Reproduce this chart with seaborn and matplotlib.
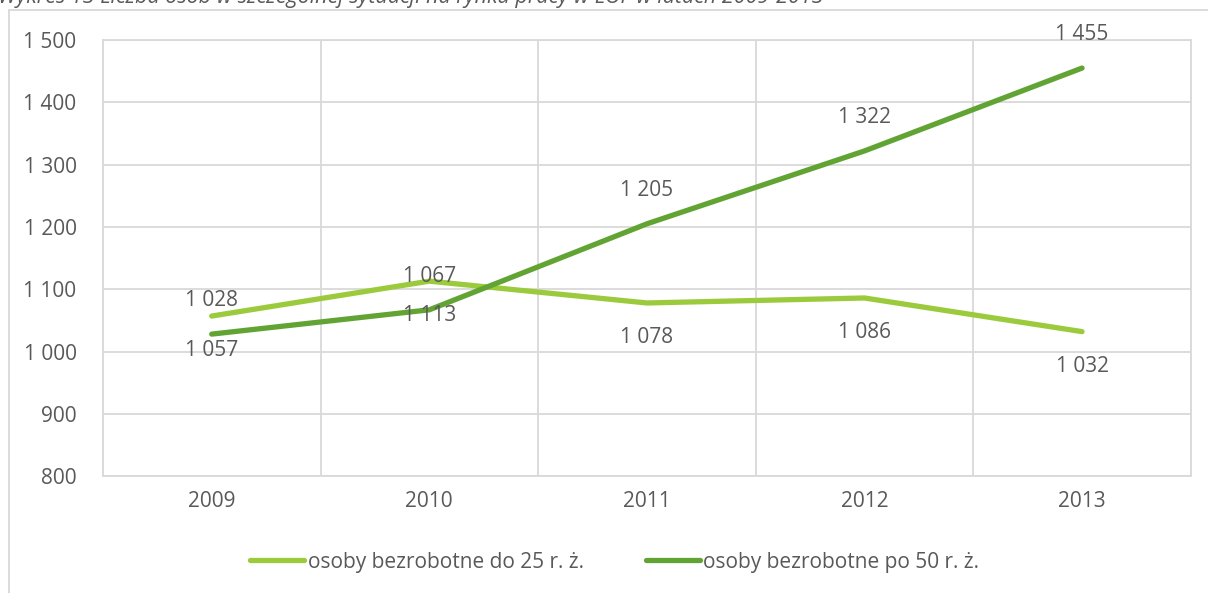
import numpy as np
import pandas as pd
import matplotlib
matplotlib.use("Agg")
import matplotlib.pyplot as plt
from matplotlib.lines import Line2D
import seaborn as sns

years = ["2009", "2010", "2011", "2012", "2013"]
do25 = [1057, 1113, 1078, 1086, 1032]
po50 = [1028, 1067, 1205, 1322, 1455]
# labels as printed in the source chart (they are swapped in the first two years)
labels_do25 = ["1 057", "1 113", "1 078", "1 086", "1 032"]
labels_po50 = ["1 028", "1 067", "1 205", "1 322", "1 455"]
series = ["osoby bezrobotne do 25 r. ż.", "osoby bezrobotne po 50 r. ż."]
yticks = [800, 900, 1000, 1100, 1200, 1300, 1400, 1500]

light = "#9BCB3C"
dark = "#62A434"
grey_txt = "#595959"
grid_c = "#D9D9D9"
fs = 15

sns.set_style("white")
plt.rcParams['font.family'] = ['Open Sans', 'DejaVu Sans']

df = pd.DataFrame({
    "year": years * 2,
    "value": do25 + po50,
    "serie": [series[0]] * 5 + [series[1]] * 5,
})
df["x"] = df["year"].map({y: i for i, y in enumerate(years)})

fig = plt.figure(figsize=(12.08, 5.93), dpi=100)
ax = fig.add_axes([0.0852, 0.197, 0.9006, 0.7355])

sns.lineplot(data=df, x="x", y="value", hue="serie", palette=[light, dark],
             linewidth=3.8, ax=ax, legend=False, sort=False,
             solid_capstyle="round")

ax.set_xlim(-0.5, 4.5)
ax.set_ylim(800, 1500)
ax.set_yticks(yticks)
ax.set_yticklabels([f"{v:,}".replace(",", " ") for v in yticks])
ax.set_xticks(range(5))
ax.set_xticklabels(years)
ax.set_xticks(np.arange(-0.5, 5, 1), minor=True)
ax.grid(True, axis="y", color=grid_c, linewidth=1.3)
ax.grid(True, axis="x", which="minor", color=grid_c, linewidth=1.3)
ax.grid(False, axis="x", which="major")
for s in ax.spines.values():
    s.set_color(grid_c)
    s.set_linewidth(1.3)
ax.tick_params(axis="both", which="both", length=0, labelsize=fs,
               labelcolor=grey_txt)
ax.tick_params(axis="y", pad=19)
ax.tick_params(axis="x", pad=11)
ax.set_xlabel("")
ax.set_ylabel("")

for i in range(5):
    ax.annotate(labels_po50[i], (i, po50[i]), xytext=(0, 24), textcoords="offset points",
                ha="center", va="center", fontsize=fs, color=grey_txt)
    ax.annotate(labels_do25[i], (i, do25[i]), xytext=(0, -25), textcoords="offset points",
                ha="center", va="center", fontsize=fs, color=grey_txt)

handles = [Line2D([0], [0], color=light, lw=3.8, solid_capstyle="round"),
           Line2D([0], [0], color=dark, lw=3.8, solid_capstyle="round")]
fig.legend(handles, series, loc="center", bbox_to_anchor=(0.509, 0.052), ncol=2,
           frameon=False, handlelength=2.6, handletextpad=0.15,
           columnspacing=3.0, labelcolor=grey_txt, prop={"size": fs})

# outer chart frame (left and top edges visible)
fig.add_artist(Line2D([0.0075, 0.0075], [0, 0.983], color=grid_c, lw=1.3,
                      transform=fig.transFigure))
fig.add_artist(Line2D([0.0075, 1.0], [0.983, 0.983], color=grid_c, lw=1.3,
                      transform=fig.transFigure))

fig.text(-0.002, 1.004, "Wykres 13 Liczba osób w szczególnej sytuacji na rynku pracy w LOF w latach 2009-2013",
         ha="left", va="center", fontsize=15.5, style="italic", color=grey_txt)

fig.savefig("out.png", dpi=100)
